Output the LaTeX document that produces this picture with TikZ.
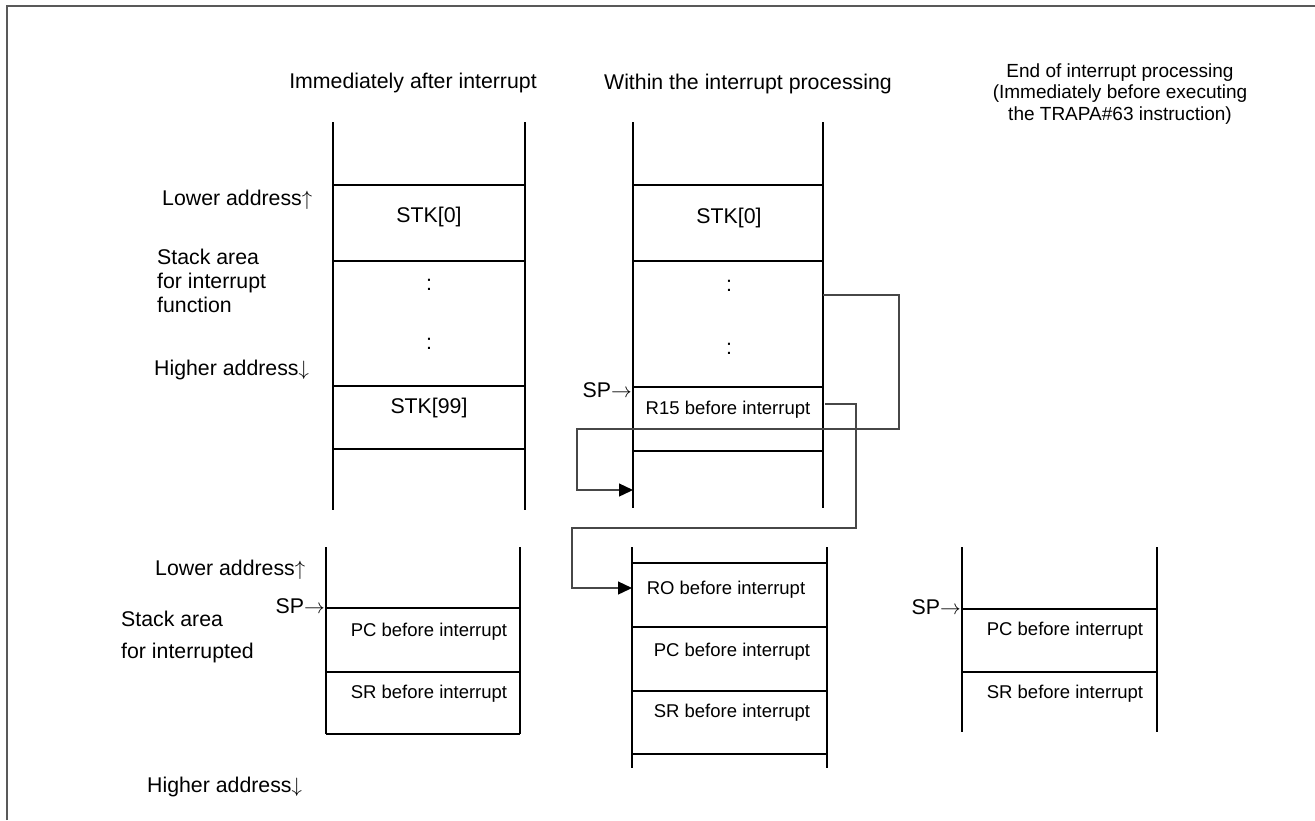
\documentclass[tikz,border=0pt]{standalone}
\usepackage{fontspec}
\setmainfont{Liberation Sans}
\usetikzlibrary{arrows.meta}
\tikzset{
  stk/.style={line width=2pt, black},
  frm/.style={line width=1.5pt, draw=black!65},
  conn/.style={line width=1.3pt, draw=black!72, -{Triangle[length=14pt,width=13pt,fill=black,color=black]}},
  big/.style={inner sep=0pt, font=\fontsize{21.3}{24}\selectfont},
  small/.style={inner sep=0pt, font=\fontsize{18.5}{22}\selectfont},
  endt/.style={inner sep=0pt, align=center, font=\fontsize{19}{21.7}\selectfont},
}
\begin{document}
\begin{tikzpicture}[x=1pt,y=-1pt]
\useasboundingbox (0,0) rectangle (1315,820);
% frame
\draw[frm] (7,820) -- (7,6) -- (1315,6);

% titles
\node[big] (t1) at (413,83) {Immediately after interrupt};
\node[big] (t2) at (748,84) {Within the interrupt processing};
\node[endt] (t3) at (1120,94) {End of interrupt processing\\(Immediately before executing\\the TRAPA\#63 instruction)};

% column 1 top stack
\draw[stk] (333,122) -- (333,510) (525,122) -- (525,510);
\foreach \y in {185,261,386,449} \draw[stk] (333,\y) -- (525,\y);
\node[big] (c1s0) at (429,217) {STK[0]};
\node[big] (c1d1) at (429,285) {:};
\node[big] (c1d2) at (429,344) {:};
\node[big] (c1s99) at (429,408) {STK[99]};

% left labels top
\node[big, anchor=west] (lo1) at (162,200) {Lower address$\uparrow$};
\node[big, anchor=west, align=left] (sa1) at (157,281) {Stack area\\for interrupt\\function};
\node[big, anchor=west] (hi1) at (154,370) {Higher address$\downarrow$};

% column 2 top stack
\draw[stk] (633,122) -- (633,508) (823,122) -- (823,508);
\foreach \y in {185,261,387,451} \draw[stk] (633,\y) -- (823,\y);
\node[big] (c2s0) at (729,218) {STK[0]};
\node[big] (c2d1) at (729,286) {:};
\node[big] (c2d2) at (729,349) {:};
\node[small] (r15) at (728,410) {R15 before interrupt};
\node[big, anchor=east] (sp2) at (632,390) {SP$\rightarrow$};

% column 1 bottom stack
\draw[stk] (326,547) -- (326,734) (520,547) -- (520,734);
\foreach \y in {608,672,734} \draw[stk] (326,\y) -- (520,\y);
\node[small] (pc1) at (429,632) {PC before interrupt};
\node[small] (sr1) at (429,694) {SR before interrupt};
\node[big, anchor=east] (sp1) at (325,606) {SP$\rightarrow$};
\node[big, anchor=west] (lo2) at (155,570) {Lower address$\uparrow$};
\node[big, anchor=west] (sa2) at (121,619) {Stack area};
\node[big, anchor=west] (sa3) at (121,653) {for interrupted};
\node[big, anchor=west] (hi2) at (147,787) {Higher address$\downarrow$};

% column 2 bottom stack
\draw[stk] (632,547) -- (632,768) (827,547) -- (827,768);
\foreach \y in {563,627,691,754} \draw[stk] (632,\y) -- (827,\y);
\node[small] (r0) at (726,590) {RO before interrupt};
\node[small] (pc2) at (732,652) {PC before interrupt};
\node[small] (sr2) at (732,713) {SR before interrupt};

% column 3 bottom stack
\draw[stk] (962,547) -- (962,732) (1157,547) -- (1157,732);
\foreach \y in {609,672} \draw[stk] (962,\y) -- (1157,\y);
\node[small] (pc3) at (1065,631) {PC before interrupt};
\node[small] (sr3) at (1065,694) {SR before interrupt};
\node[big, anchor=east] (sp3) at (961,607) {SP$\rightarrow$};

% connectors
\coordinate (a1s) at (823,295);
\coordinate (a1e) at (633,490);
\coordinate (a2s) at (825,404);
\coordinate (a2e) at (632,588);
\draw[conn] (a1s) -| (899,429) -| (577,490) -- (a1e);
\draw[conn] (a2s) -| (856,528) -| (572,588) -- (a2e);
\end{tikzpicture}
\end{document}
